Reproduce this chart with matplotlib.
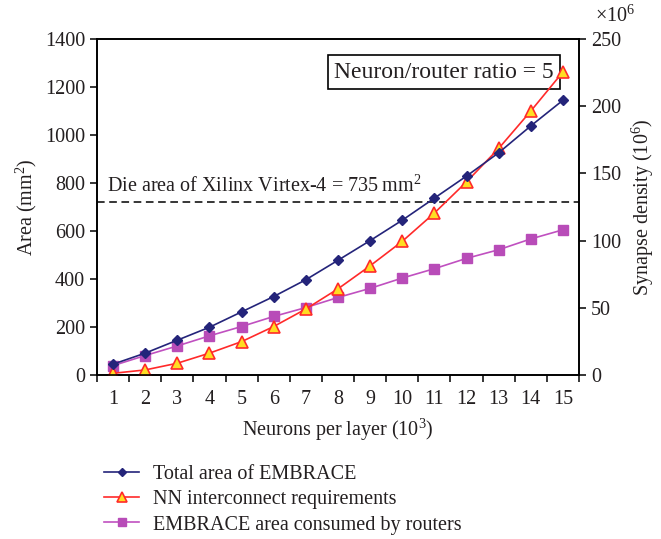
import matplotlib
matplotlib.use("Agg")
import matplotlib.pyplot as plt
from matplotlib.ticker import FixedLocator, NullFormatter

plt.rcParams['font.family'] = ['Liberation Serif', 'DejaVu Serif']
plt.rcParams['mathtext.fontset'] = 'custom'
plt.rcParams['mathtext.rm'] = 'Liberation Serif'
txt = '#231f20'
plt.rcParams['text.color'] = txt
plt.rcParams['xtick.labelcolor'] = txt
plt.rcParams['ytick.labelcolor'] = txt
plt.rcParams['axes.labelcolor'] = txt

neurons = list(range(1, 16))
total_area = [45, 91, 145, 199, 263, 327, 397, 478, 560, 645, 737, 829, 926, 1038, 1145]
nn_interconnect = [7, 21, 49, 91, 139, 202, 275, 359, 455, 557, 675, 805, 944, 1100, 1263]
router_area = [39, 81, 121, 163, 202, 244, 281, 323, 361, 404, 443, 486, 522, 567, 605]
die_area_line = 720
left_ticks = [0, 200, 400, 600, 800, 1000, 1200, 1400]
right_ticks = [0, 50, 100, 150, 200, 250]

fs = 14.5

fig = plt.figure(figsize=(6.61, 5.39), dpi=100)
ax = fig.add_axes([0.1467, 0.3043, 0.876 - 0.1467, 0.9276 - 0.3043])

navy = '#24247a'
red = '#ff2a2a'
mag = '#c050c0'

l1, = ax.plot(neurons, total_area, color=navy, lw=1.2, marker='D', ms=5.5,
              mfc=navy, mec=navy, label='Total area of EMBRACE', zorder=4)
l2, = ax.plot(neurons, nn_interconnect, color=red, lw=1.2, marker='^', ms=8.5,
              mfc='#ffdd22', mec=red, mew=1.2, label='NN interconnect requirements', zorder=3)
l3, = ax.plot(neurons, router_area, color=mag, lw=1.2, marker='s', ms=6.5,
              mfc='#b84cb8', mec='#b84cb8', label='EMBRACE area consumed by routers', zorder=2)

ax.axhline(die_area_line, color='black', lw=1.1, ls=(0, (5, 3)), zorder=1)
ax.text(0.8, die_area_line + 22, 'Die area of Xilinx Virtex-4 = 735\u2009mm$^2$',
        fontsize=fs, va='bottom', ha='left')

ax.text(11.3, 1262, 'Neuron/router ratio = 5', fontsize=17, ha='center', va='center',
        zorder=1.5,
        bbox=dict(boxstyle='square,pad=0.28', fc='white', ec='black', lw=1.2))

ax.set_xlim(0.5, 15.5)
ax.set_ylim(0, 1400)
ax.set_yticks(left_ticks)
ax.xaxis.set_major_locator(FixedLocator(neurons))
ax.xaxis.set_minor_locator(FixedLocator([i + 0.5 for i in range(0, 16)]))
ax.xaxis.set_minor_formatter(NullFormatter())
ax.tick_params(axis='x', which='major', length=0, labelsize=fs, pad=11)
ax.tick_params(axis='x', which='minor', length=5, width=1.1, direction='out')
ax.tick_params(axis='y', length=5, width=1.1, direction='out', labelsize=fs)
for s in ax.spines.values():
    s.set_linewidth(1.2)

ax.set_xlabel('Neurons per layer (10$^3$)', fontsize=fs, labelpad=5)
ax.set_ylabel('Area (mm$^2$)', fontsize=fs, labelpad=4)

ax2 = ax.twinx()
ax2.set_ylim(0, 250)
ax2.set_yticks(right_ticks)
ax2.tick_params(axis='y', length=5, width=1.1, direction='out', labelsize=fs)
ax2.set_ylabel('Synapse density (10$^6$)', fontsize=fs, labelpad=6)
for s in ax2.spines.values():
    s.set_linewidth(1.2)
fig.text(0.93, 0.97, '\u00d710$^6$', fontsize=fs, ha='center', va='center')

fig.legend(handles=[l1, l2, l3], loc='upper left', bbox_to_anchor=(0.145, 0.152),
           frameon=False, fontsize=fs, handlelength=1.75, labelspacing=0.3,
           borderaxespad=0, handletextpad=0.7, markerscale=0.8)

fig.savefig('out.png', dpi=100)
